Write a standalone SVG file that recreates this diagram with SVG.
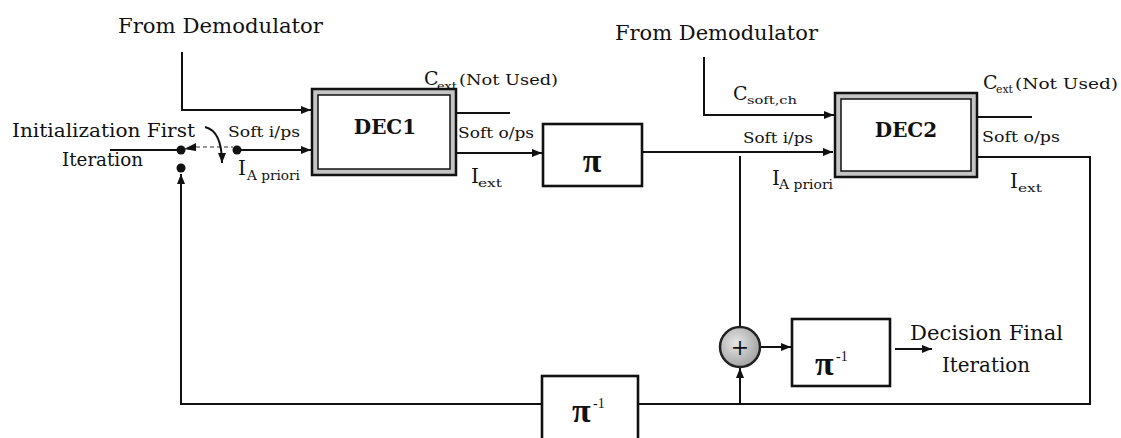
<svg xmlns="http://www.w3.org/2000/svg" width="1121" height="438" viewBox="0 0 1121 438">
<style>
.ln{stroke:#111;stroke-width:2;fill:none}
.t{font-family:"DejaVu Serif","Liberation Serif",serif;fill:#111}
.lbl{font-size:20px}
.sm{font-size:15px}
.sub{font-size:11px}
.bold{font-weight:bold;font-size:20px}
.pi{font-family:"Liberation Serif","Times New Roman",serif;font-size:34px;font-weight:bold;fill:#111}
.sup{font-family:"Liberation Serif","Times New Roman",serif;font-size:14px;fill:#111}
.frame{fill:#c4c4c4;stroke:#111;stroke-width:2.5}
.inner{fill:#fff;stroke:#111;stroke-width:1.5}
.box{fill:#fff;stroke:#111;stroke-width:2.6}
</style>
<defs>
<marker id="arr" markerUnits="userSpaceOnUse" markerWidth="10" markerHeight="8" refX="10" refY="4" orient="auto">
<path d="M0,0 L10,4 L0,8 z" fill="#111"/>
</marker>
<radialGradient id="sumg" cx="0.4" cy="0.4" r="0.7">
<stop offset="0" stop-color="#e6e6e6"/>
<stop offset="1" stop-color="#9a9a9a"/>
</radialGradient>
</defs>
<rect width="1121" height="438" fill="#fff"/>

<g id="connectors">
<path class="ln" d="M182,52 V110 H311" marker-end="url(#arr)"/>
<path class="ln" d="M110,150 H178"/>
<path d="M196,147 H233" stroke="#777" stroke-width="1.5" stroke-dasharray="4,3" fill="none"/>
<path class="ln" d="M237,150 H311" marker-end="url(#arr)"/>
<path class="ln" d="M542,404 H181 V174" marker-end="url(#arr)"/>
<path class="ln" d="M456,113 H510"/>
<path class="ln" d="M456,153 H542" marker-end="url(#arr)"/>
<path class="ln" d="M642,152 H833" marker-end="url(#arr)"/>
<path class="ln" d="M704,57 V115 H834" marker-end="url(#arr)"/>
<path class="ln" d="M977,117 H1032"/>
<path class="ln" d="M977,157 H1090 V404 H638"/>
<path class="ln" d="M740,404 V368" marker-end="url(#arr)"/>
<path class="ln" d="M740,156 V327"/>
<path class="ln" d="M760,347 H791" marker-end="url(#arr)"/>
<path class="ln" d="M895,349 H932" stroke-width="1.8" marker-end="url(#arr)"/>
<path class="ln" d="M205,127 Q222,131 222,163" stroke-width="1.6" marker-end="url(#arr)"/>
</g>

<g id="switch">
<circle cx="181" cy="150" r="4.5" fill="#111"/>
<polygon points="184,149 196,143 196,151" fill="#111"/>
<circle cx="237" cy="150" r="4.5" fill="#111"/>
<circle cx="181" cy="168" r="4.5" fill="#111"/>
</g>

<g id="labels">
<text class="t lbl" x="118" y="33" textLength="205" lengthAdjust="spacingAndGlyphs">From Demodulator</text>
<text class="t lbl" x="615" y="40" textLength="203" lengthAdjust="spacingAndGlyphs">From Demodulator</text>
<text class="t" x="12" y="137" font-size="19" textLength="183" lengthAdjust="spacingAndGlyphs">Initialization First</text>
<text class="t" x="62" y="166" font-size="19" textLength="81" lengthAdjust="spacingAndGlyphs">Iteration</text>
<text class="t sm" x="228" y="137" textLength="72" lengthAdjust="spacingAndGlyphs">Soft i/ps</text>
<text class="t" x="238" y="175" font-size="20">I</text>
<text class="t" x="247" y="180" font-size="12" textLength="53" lengthAdjust="spacingAndGlyphs">A priori</text>
<text class="t" x="424" y="85" font-size="19">C</text>
<text class="t sub" x="437" y="90" textLength="20" lengthAdjust="spacingAndGlyphs">ext</text>
<text class="t sm" x="459" y="85" textLength="99" lengthAdjust="spacingAndGlyphs">(Not Used)</text>
<text class="t sm" x="458" y="138" textLength="76" lengthAdjust="spacingAndGlyphs">Soft o/ps</text>
<text class="t" x="471" y="183" font-size="20">I</text>
<text class="t sub" x="478" y="187" textLength="24" lengthAdjust="spacingAndGlyphs">ext</text>
<text class="t" x="733" y="100" font-size="19">C</text>
<text class="t sub" x="747" y="104" textLength="50" lengthAdjust="spacingAndGlyphs">soft,ch</text>
<text class="t sm" x="743" y="143" textLength="70" lengthAdjust="spacingAndGlyphs">Soft i/ps</text>
<text class="t" x="772" y="185" font-size="20">I</text>
<text class="t" x="779" y="189" font-size="12" textLength="54" lengthAdjust="spacingAndGlyphs">A priori</text>
<text class="t" x="983" y="89" font-size="19">C</text>
<text class="t sub" x="996" y="93" textLength="17" lengthAdjust="spacingAndGlyphs">ext</text>
<text class="t sm" x="1015" y="89" textLength="103" lengthAdjust="spacingAndGlyphs">(Not Used)</text>
<text class="t sm" x="982" y="142" textLength="78" lengthAdjust="spacingAndGlyphs">Soft o/ps</text>
<text class="t" x="1010" y="188" font-size="20">I</text>
<text class="t sub" x="1018" y="192" textLength="24" lengthAdjust="spacingAndGlyphs">ext</text>
<text class="t lbl" x="910" y="340" textLength="153" lengthAdjust="spacingAndGlyphs">Decision Final</text>
<text class="t lbl" x="942" y="372" textLength="88" lengthAdjust="spacingAndGlyphs">Iteration</text>
</g>

<g id="DEC1">
<rect class="frame" x="312" y="89" width="144" height="86"/>
<rect class="inner" x="318" y="95" width="132" height="74"/>
<text class="t bold" x="385" y="134" text-anchor="middle">DEC1</text>
</g>

<g id="DEC2">
<rect class="frame" x="835" y="93" width="142" height="84"/>
<rect class="inner" x="841" y="99" width="130" height="72"/>
<text class="t bold" x="906" y="137" text-anchor="middle">DEC2</text>
</g>

<g id="interleaver">
<rect class="box" x="543" y="124" width="99" height="62" stroke-width="3"/>
<text class="pi" x="592" y="172" text-anchor="middle">π</text>
</g>

<g id="deinterleaver-feedback">
<rect class="box" x="542" y="376" width="96" height="70"/>
<text class="pi" x="572" y="422">π</text>
<text class="sup" x="593" y="408">-1</text>
</g>

<g id="sum">
<circle cx="740" cy="347" r="20" fill="url(#sumg)" stroke="#222" stroke-width="2.5"/>
<text class="t" x="740" y="355" font-size="22" text-anchor="middle">+</text>
</g>

<g id="deinterleaver-decision">
<rect class="box" x="792" y="319" width="98" height="67"/>
<text class="pi" x="815" y="375">π</text>
<text class="sup" x="836" y="361">-1</text>
</g>
</svg>
